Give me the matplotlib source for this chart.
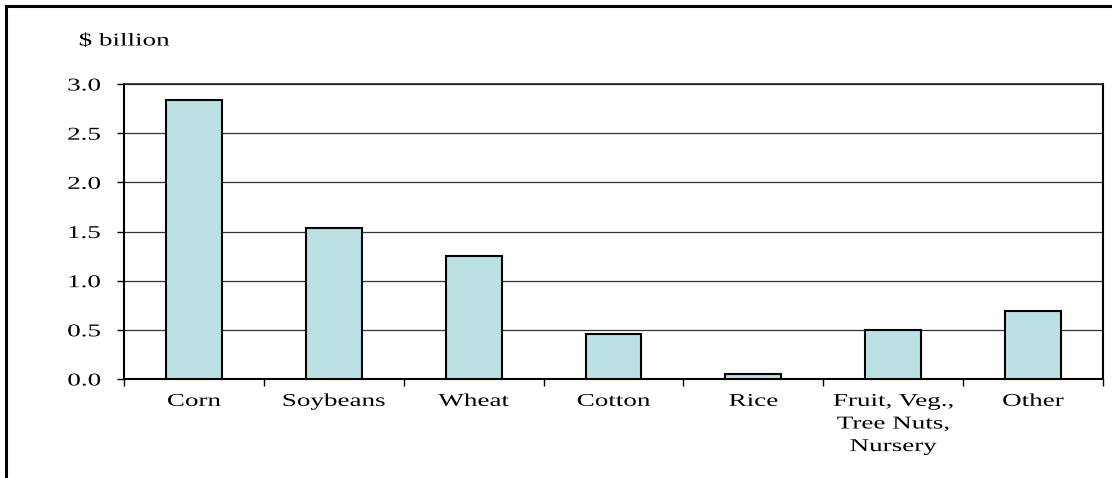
import numpy as np
import matplotlib
matplotlib.use("Agg")
import matplotlib.pyplot as plt
from matplotlib.lines import Line2D
from matplotlib.patheffects import AbstractPathEffect
from matplotlib.transforms import Affine2D

# ============================================================
# DADOS
# ============================================================

CATEGORIES = ["Corn", "Soybeans", "Wheat", "Cotton", "Rice",
              "Fruit, Veg.,\nTree Nuts,\nNursery", "Other"]
VALUES = [2.84, 1.54, 1.25, 0.46, 0.05, 0.50, 0.69]
Y_TICKS = [0.0, 0.5, 1.0, 1.5, 2.0, 2.5, 3.0]

BAR_COLOR = "#BBE0E3"
FONT = "Liberation Serif"
FONT_SIZE = 13
STRETCH = 1.5   # o texto do original aparece esticado na horizontal

plt.rcParams["font.family"] = FONT
plt.rcParams["font.size"] = FONT_SIZE


class HStretch(AbstractPathEffect):
    """Estica o texto na horizontal em torno de um ponto de ancoragem"""

    def __init__(self, sx, anchor="center"):
        super().__init__()
        self.sx = sx
        self.anchor = anchor

    def draw_path(self, renderer, gc, tpath, affine, rgbFace=None):
        ext = tpath.get_extents()
        if self.anchor == "left":
            cx = ext.x0
        elif self.anchor == "right":
            cx = ext.x1
        else:
            cx = 0.5 * (ext.x0 + ext.x1)
        t = Affine2D().translate(-cx, 0).scale(self.sx, 1).translate(cx, 0) + affine
        renderer.draw_path(gc, tpath, t, rgbFace)


# ============================================================
# FIGURA
# ============================================================

fig = plt.figure(figsize=(11.12, 4.78), dpi=100)
W, H = 1112, 478

# axes em pixels: esquerda 124, direita 1103, topo 84, base 379
ax = fig.add_axes([124 / W, 1 - 379 / H, (1103 - 124) / W, (379 - 84) / H])

x = np.arange(len(CATEGORIES))
ax.bar(x, VALUES, width=0.40, color=BAR_COLOR, edgecolor="black",
       linewidth=1.5, zorder=3)

ax.set_xlim(-0.5, len(CATEGORIES) - 0.5)
ax.set_ylim(0, 3.0)
ax.set_yticks(Y_TICKS)
ax.set_yticklabels([f"{v:.1f}" for v in Y_TICKS])

ax.set_xticks(x)
ax.set_xticklabels(CATEGORIES, linespacing=1.43, va="top")
ax.set_xticks(np.arange(-0.5, len(CATEGORIES) + 0.5, 1.0), minor=True)
ax.tick_params(axis="x", which="major", length=0, pad=10)
ax.tick_params(axis="x", which="minor", length=5, width=1, direction="out")
ax.tick_params(axis="y", length=5, width=1, direction="out", pad=12)

for lbl in ax.get_xticklabels():
    lbl.set_path_effects([HStretch(STRETCH, "center")])
for lbl in ax.get_yticklabels():
    lbl.set_horizontalalignment("right")
    lbl.set_path_effects([HStretch(STRETCH, "right")])

ax.yaxis.grid(True, color="#333333", linewidth=0.9, zorder=0)
ax.set_axisbelow(True)

for side in ["left", "bottom", "right"]:
    ax.spines[side].set_linewidth(1.5)
    ax.spines[side].set_color("black")
ax.spines["top"].set_linewidth(1.2)
ax.spines["top"].set_color("#222222")

fig.text(79 / W, 1 - 41 / H, "\\$ billion", ha="left", va="center",
         fontsize=FONT_SIZE, path_effects=[HStretch(STRETCH, "left")])

# moldura externa (topo e esquerda)
fig.add_artist(Line2D([6 / W, 1.0], [1 - 6 / H, 1 - 6 / H], color="black",
                      linewidth=2.2, transform=fig.transFigure))
fig.add_artist(Line2D([6 / W, 6 / W], [0.0, 1 - 6 / H], color="black",
                      linewidth=2.2, transform=fig.transFigure))

fig.savefig("out.png", dpi=100)
